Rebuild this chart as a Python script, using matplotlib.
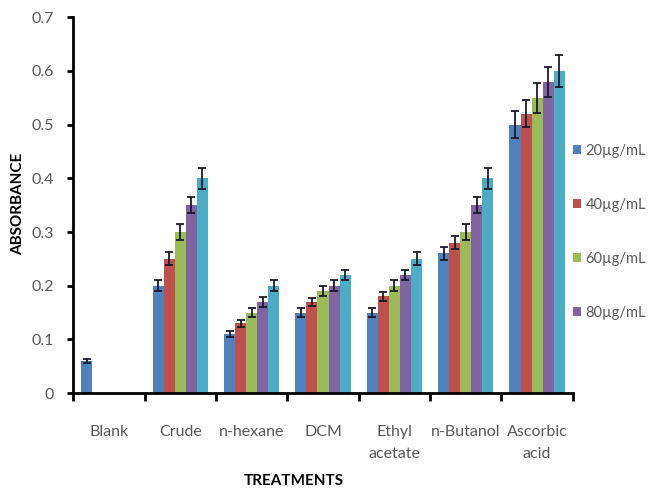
import numpy as np
import matplotlib
matplotlib.use("Agg")
import matplotlib.pyplot as plt
from matplotlib import font_manager

# Pick a narrow sans family if available
available = {f.name for f in font_manager.fontManager.ttflist}
family = next((f for f in ["Liberation Sans Narrow", "Lato", "Open Sans", "DejaVu Sans"] if f in available), "DejaVu Sans")
plt.rcParams["font.family"] = [family, "DejaVu Sans"]

categories = ["Blank", "Crude", "n-hexane", "DCM", "Ethyl\nacetate", "n-Butanol", "Ascorbic\nacid"]
series_names = ["20µg/mL", "40µg/mL", "60µg/mL", "80µg/mL", "100µg/mL"]
colors = ["#4F81BD", "#C0504D", "#9BBB59", "#8064A2", "#4BACC6"]

s20 = [0.06, 0.20, 0.11, 0.15, 0.15, 0.26, 0.50]
s40 = [np.nan, 0.25, 0.13, 0.17, 0.18, 0.28, 0.52]
s60 = [np.nan, 0.30, 0.15, 0.19, 0.20, 0.30, 0.55]
s80 = [np.nan, 0.35, 0.17, 0.20, 0.22, 0.35, 0.58]
s100 = [np.nan, 0.40, 0.20, 0.22, 0.25, 0.40, 0.60]

e20 = [0.004, 0.010, 0.006, 0.008, 0.008, 0.012, 0.025]
e40 = [np.nan, 0.012, 0.007, 0.008, 0.009, 0.012, 0.025]
e60 = [np.nan, 0.015, 0.008, 0.010, 0.010, 0.014, 0.028]
e80 = [np.nan, 0.015, 0.009, 0.010, 0.010, 0.015, 0.028]
e100 = [np.nan, 0.020, 0.010, 0.010, 0.012, 0.020, 0.030]

values = [s20, s40, s60, s80, s100]
errors = [e20, e40, e60, e80, e100]

fig = plt.figure(figsize=(6.48, 4.92), dpi=100)
ax = fig.add_axes([0.113, 0.201, 0.771, 0.764])

x = np.arange(len(categories))
bw = 0.155
offsets = (np.arange(5) - 2) * bw
text_color = "#595959"

for i in range(5):
    ax.bar(x + offsets[i], values[i], width=bw, color=colors[i], label=series_names[i], zorder=2)
    ax.errorbar(x + offsets[i], values[i], yerr=errors[i], fmt="none",
                ecolor="#1a1a2a", elinewidth=1.3, capsize=3, capthick=1.3, zorder=3)

ax.set_xlim(-0.5, len(categories) - 0.5)
ax.set_ylim(0, 0.7)
ax.set_yticks(np.arange(0, 0.71, 0.1))
ax.set_yticklabels(["0", "0.1", "0.2", "0.3", "0.4", "0.5", "0.6", "0.7"])
ax.set_xticks(x)
ax.set_xticklabels(categories, color=text_color, fontsize=11.5, linespacing=1.75)
ax.tick_params(axis="x", length=0, pad=23)
ax.set_xticks(np.arange(-0.5, len(categories)), minor=True)
ax.tick_params(axis="x", which="minor", length=6, width=2, direction="out", color="black")
ax.tick_params(axis="y", length=4, width=2, direction="out", labelsize=11.5, labelcolor=text_color, pad=10)

for side in ["top", "right"]:
    ax.spines[side].set_visible(False)
for side in ["left", "bottom"]:
    ax.spines[side].set_linewidth(2)

fig.text(0.453, 0.022, "TREATMENTS", ha="center", va="center", fontsize=11, fontweight="bold", color="black")
fig.text(0.028, 0.585, "ABSORBANCE", ha="center", va="center", rotation=90, fontsize=11, fontweight="bold", color="black")

handles, labels = ax.get_legend_handles_labels()
leg = fig.legend(handles[:4], labels[:4], loc="upper left", bbox_to_anchor=(0.864, 0.735),
                 frameon=False, fontsize=10.5, handlelength=0.55, handleheight=0.55,
                 handletextpad=0.3, labelspacing=2.75, labelcolor=text_color)

fig.savefig("out.png", dpi=100)
